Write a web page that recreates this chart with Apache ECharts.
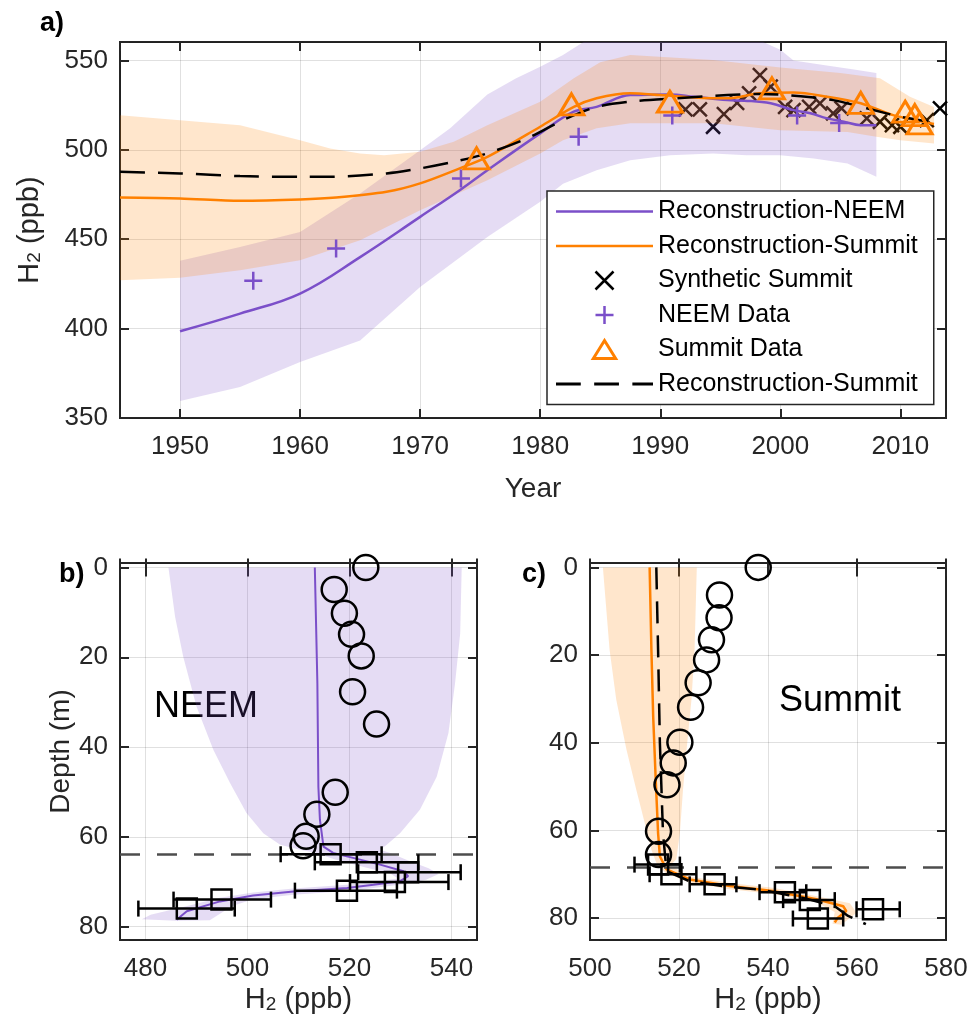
<!DOCTYPE html>
<html>
<head>
<meta charset="utf-8">
<script src="https://cdn.jsdelivr.net/npm/echarts@6/dist/echarts.min.js"></script>
<style>
  html, body { margin: 0; background: #fff; }
  #chart { width: 972px; height: 1028px; }
</style>
</head>
<body>
<div id="chart"></div>
<script>
const FONT = 'Liberation Sans, Arial, sans-serif'
const INK = '#262626'
const PURPLE = '#7b4fc9'
const ORANGE = '#ff8000'
const PURPLE_BAND = 'rgba(123,79,201,0.2)'
const ORANGE_BAND = 'rgba(255,128,0,0.2)'

// ---------- panel a : atmospheric history ----------
const neemYear = [1950, 1955, 1960, 1965, 1970, 1973.3, 1975.6, 1980, 1982.8, 1984.7, 1987.5, 1990.8, 1992.8, 1995.6, 1997, 1999.2, 2001.1, 2002.5, 2003.9, 2005.3, 2006.7, 2008]
const neemH2 = [398.5, 408.4, 419.6, 440, 462.5, 477.4, 488.6, 509.2, 521.3, 524, 530.6, 531, 529.7, 527.8, 527.5, 526, 522.2, 520.4, 517.6, 515.7, 513.8, 513.8]

const summitYear = [1945, 1950, 1955, 1960, 1963, 1967.2, 1970, 1973.3, 1975.6, 1980, 1982.8, 1984.7, 1987.5, 1990, 1992.8, 1995.6, 1998.3, 2001.1, 2003.9, 2006.7, 2009.4, 2012.8]
const summitH2 = [473.3, 472.8, 471.5, 472.2, 473.3, 476.5, 481.2, 489.6, 496, 512.9, 524, 528.8, 531.6, 530.6, 529.3, 528.8, 531.6, 532, 529.7, 526, 519.4, 514.4]

const dashYear = [1945, 1950, 1955, 1960, 1962.2, 1967.2, 1970, 1972.8, 1975.6, 1979.2, 1981.9, 1984.7, 1987.5, 1991.4, 1995.6, 1998.3, 2001.7, 2004.4, 2007.2, 2010, 2012.5]
const dashH2 = [487.7, 486.8, 485.3, 484.9, 484.9, 486.8, 489.6, 493.3, 498, 507.3, 516.6, 524, 526.9, 528.8, 530.6, 531.2, 530, 527.8, 523.2, 518.5, 515.7]

const neemUpYear = [1950, 1955, 1960, 1965, 1970, 1972.5, 1975.6, 1978, 1980, 1981.9, 1984, 1987, 1992, 1996, 1998, 2000, 2001.1, 2004, 2006, 2008]
const neemUp = [437.9, 445.7, 454, 475.6, 499.8, 512, 531, 540, 546.5, 553, 562, 568, 570, 566, 562, 556, 550, 547, 545, 543]
const neemLoYear = [1950, 1955, 1960, 1965, 1970, 1975.6, 1980, 1981.9, 1984.7, 1987.5, 1990.8, 1994.4, 1997.2, 2000, 2002.8, 2005.6, 2008]
const neemLo = [359.5, 367.3, 381.3, 393.4, 423.3, 451.3, 471, 481, 488.6, 494.2, 497, 498, 497, 497, 495.2, 492.4, 485]

const sumUpYear = [1945, 1950, 1955, 1960, 1962.5, 1965, 1967, 1970, 1972.8, 1975.6, 1980, 1982.8, 1985, 1987.5, 1994.4, 2000, 2005, 2008.3, 2010.8, 2012.8]
const sumUp = [519.4, 516.6, 513.8, 505.4, 500.8, 498, 497, 498.9, 504.5, 513.8, 526.9, 540, 549, 553, 550.2, 546, 543, 540, 529.7, 524]
const sumLoYear = [1945, 1950, 1955, 1960, 1965, 1970, 1975.6, 1980, 1981.9, 1984.7, 1987.5, 1994.4, 2000, 2005.6, 2008, 2010, 2012.8]
const sumLo = [427, 428.5, 432.6, 438.2, 449.4, 466.2, 483, 498, 505.4, 512, 514.8, 514.8, 511, 510, 507.3, 505.4, 503.6]

const synthYear = [1992.1, 1993.3, 1994.4, 1995.3, 1996.4, 1997.4, 1998.3, 1999.2, 2000.4, 2001.1, 2002.4, 2003.3, 2004.4, 2005.1, 2007.2, 2008.3, 2009.3, 2010, 2012.2, 2013.3]
const synthH2 = [522.6, 522.6, 512.9, 520, 526.3, 531.6, 541.8, 535.3, 524, 522.2, 524, 526, 520.4, 523.2, 517.6, 515.7, 513.8, 512.9, 516.6, 523.2]

const neemDataYear = [1956.1, 1963, 1973.4, 1983.2, 1991, 2001.4, 2004.9]
const neemDataH2 = [426.7, 444.8, 484, 507.3, 519.2, 519.2, 515]

const sumDataYear = [1974.7, 1982.6, 1990.8, 1999.3, 2006.7, 2010.4, 2011.2, 2011.6]
const sumDataH2 = [495.2, 525.4, 526.9, 534.4, 526.3, 521.3, 519.4, 514.8]

// ---------- panel b : NEEM depth profile ----------
const bLineH2 = [513.2, 513.7, 513.9, 514.2, 514.9, 516.8, 520.7, 526, 530.6, 531.5, 529.9, 524.7, 519.5, 509, 501.1, 494.6, 488.1, 486.1]
const bLineDepth = [0, 25.8, 48.9, 56.2, 62.2, 63.6, 64.7, 66.2, 67.7, 68.8, 69.9, 70.7, 71.4, 72.2, 73.1, 74.4, 76.6, 78.5]

const bBandH2 = [484.5, 485.8, 487.4, 490, 493.3, 496.6, 499.8, 503.1, 506.4, 510.3, 513.5,
  517, 523, 528, 529.5,
  524.7, 519.5, 509, 501.1, 494.6, 488, 481, 479.3,
  486, 492.6, 497, 501.1, 509, 519.5, 524.7, 530.5, 535, 537.5,
  535.5, 531.5, 528, 526,
  527.3, 529.9, 533.8, 537.1, 539.4, 540.7, 541.7, 542]
const bBandDepth = [0, 11, 19.9, 31, 40.6, 48.1, 54.7, 59.2, 61.8, 62.9, 63.6,
  65, 66.8, 68.2, 69.3,
  70, 70.7, 71.5, 72.4, 73.6, 75.5, 77.4, 78.4,
  78.7, 78.6, 75.4, 73.9, 72.9, 72.1, 71.4, 70.6, 69.6, 68.3,
  67, 65.3, 63.6, 62.9,
  61.8, 59.2, 54, 46.6, 36.9, 25.8, 14.7, 0]

const bFirnH2 = [523.2, 517, 519, 520.4, 522.3, 520.6, 525.3, 517.2, 513.6, 511.5, 510.9]
const bFirnDepth = [0, 4.9, 10.2, 14.9, 19.7, 27.7, 34.9, 50.1, 55, 59.9, 62]

const bIceH2 = [516.3, 523.4, 531.5, 528.9, 519.5, 494.9, 488.1]
const bIceDepth = [63.9, 65.7, 67.9, 70.1, 72.0, 74.0, 76.0]
const bIceLo = [506.5, 513.2, 521.7, 520.1, 509.3, 485.5, 478.6]
const bIceHi = [526.3, 533.5, 541.8, 539.4, 529.3, 504.6, 497.5]
const bCutoff = 64

// ---------- panel c : Summit depth profile ----------
const cLineH2 = [513.4, 513.8, 514.2, 514.8, 515.3, 515.7, 517.2, 522.4, 531.4, 541.1, 550.9, 556.9, 557.6, 555.7, 555]
const cLineDepth = [0, 18.8, 34, 49.2, 60.6, 65.9, 68.9, 71.2, 72.7, 73.8, 75.7, 77.3, 78.4, 79.9, 81]

const cDashH2 = [514.9, 515.3, 515.7, 516.4, 517.2, 522.4, 529.9, 538.9, 547.9, 555, 558, 562]
const cDashDepth = [0, 18.8, 39.9, 60.6, 69.3, 71.6, 72.7, 73.6, 75.4, 77.3, 79.5, 81.4]

const cBandH2 = [502.9, 504.4, 505.9, 508.2, 510.4, 512.3, 513.8, 514.9,
  517, 522.4, 531.4, 541.1, 550.9, 555, 554.5,
  556.5, 559.9, 558.4, 551, 541.1, 531.4, 522.4, 518,
  519.4, 520.2, 520.9, 521.7, 522.8, 523.5, 524]
const cBandDepth = [0, 18.8, 30.2, 41.6, 50.7, 58.3, 64.4, 67.4,
  69.7, 71.9, 73.4, 74.5, 76.4, 78.6, 81.3,
  81.5, 78.8, 76.6, 75, 73.1, 72, 70.5, 68,
  66.6, 60.6, 50.7, 41.6, 30.2, 18.8, 0]

const cFirnH2 = [537.8, 529.1, 529, 527.3, 526.2, 524.3, 522.6, 520.2, 518.7, 517.3, 515.4, 515.4]
const cFirnDepth = [0, 6.3, 11.5, 16.5, 21.1, 26.3, 31.9, 39.9, 44.6, 49.6, 60.2, 65.5]

const cIceH2 = [515.3, 518.3, 528, 543.8, 549.4, 551.2, 563.6]
const cIceDepth = [67.8, 70, 72.3, 74.1, 75.9, 80.1, 78]
const cIceLo = [510, 513.4, 522.4, 538.1, 543.4, 545.6, 559.9]
const cIceHi = [520.2, 523.9, 532.9, 548.6, 555, 556.9, 569.6]
const cCutoff = 68.5

const zip = (a, b) => a.map((v, i) => [v, b[i]])

// ---------- helpers ----------
function tickFormatter(step) {
  return (v) => Math.abs(v / step - Math.round(v / step)) < 1e-6 ? String(Math.round(v)) : ''
}

const h2Rich = {
  m: { fontSize: 29, fontFamily: FONT, color: INK, lineHeight: 32, verticalAlign: 'bottom' },
  s: { fontSize: 19, fontFamily: FONT, color: INK, lineHeight: 14, verticalAlign: 'bottom' }
}
const H2_NAME = '{m|H}{s|2}{m| (ppb)}'

function mainAxis(grid, min, max, step, extra) {
  return Object.assign({
    type: 'value', gridIndex: grid, min: min, max: max, minInterval: step, maxInterval: step,
    axisLine: { show: false },
    axisTick: { inside: true, length: 9, lineStyle: { color: INK, width: 2 } },
    axisLabel: { fontSize: 26, color: INK, fontFamily: FONT, margin: 12, formatter: tickFormatter(step) },
    splitLine: { show: true, lineStyle: { color: 'rgba(0,0,0,0.12)', width: 1 } },
    nameLocation: 'middle',
    nameTextStyle: { fontSize: 28, color: INK, fontFamily: FONT, rich: h2Rich }
  }, extra)
}

function sideAxis(grid, min, max, step, position, inverse) {
  return {
    type: 'value', gridIndex: grid, min: min, max: max, minInterval: step, maxInterval: step,
    position: position, inverse: !!inverse,
    axisLine: { show: false },
    axisTick: { inside: true, length: 9, lineStyle: { color: INK, width: 2 } },
    axisLabel: { show: false },
    splitLine: { show: false }
  }
}

function bandSeries(name, xs, ys, color, axis, z) {
  return {
    name: name, type: 'custom', xAxisIndex: axis, yAxisIndex: axis, clip: true, silent: true, z: z,
    data: zip(xs, ys),
    renderItem: (params, api) => {
      if (params.dataIndex !== 0) return null
      const pts = xs.map((x, i) => api.coord([x, ys[i]]))
      return { type: 'polygon', shape: { points: pts }, style: { fill: color } }
    }
  }
}

function errorBars(name, lo, hi, ys, axis) {
  return {
    name: name, type: 'custom', xAxisIndex: axis, yAxisIndex: axis, silent: true, z: 6,
    data: lo.map((l, i) => [l, hi[i], ys[i]]),
    encode: { x: [0, 1], y: 2 },
    renderItem: (params, api) => {
      const a = api.coord([api.value(0), api.value(2)])
      const b = api.coord([api.value(1), api.value(2)])
      const cap = 8
      const st = () => ({ stroke: '#000', lineWidth: 2.5, fill: null })
      return {
        type: 'group', children: [
          { type: 'line', shape: { x1: a[0], y1: a[1], x2: b[0], y2: b[1] }, style: st() },
          { type: 'line', shape: { x1: a[0], y1: a[1] - cap, x2: a[0], y2: a[1] + cap }, style: st() },
          { type: 'line', shape: { x1: b[0], y1: b[1] - cap, x2: b[0], y2: b[1] + cap }, style: st() }
        ]
      }
    }
  }
}

function hollow(name, data, symbol, size, color, width, axis, z) {
  return {
    name: name, type: 'scatter', xAxisIndex: axis, yAxisIndex: axis, silent: true, z: z,
    symbol: symbol, symbolSize: size, data: data,
    itemStyle: { color: 'rgba(0,0,0,0)', borderColor: color, borderWidth: width, opacity: 1 }
  }
}

const X_PATH = 'path://M0,0L10,10M10,0L0,10'
const PLUS_PATH = 'path://M5,0L5,10M0,5L10,5'
const TRI_PATH = 'path://M13,0L26,21L0,21Z'

const chart = echarts.init(document.getElementById('chart'))

const option = {
  animation: false,
  backgroundColor: '#fff',
  textStyle: { fontFamily: FONT },
  grid: [
    { left: 120, top: 42, width: 826, height: 376, show: true, borderColor: INK, borderWidth: 2, backgroundColor: 'transparent' },
    { left: 120, top: 563, width: 357, height: 377, show: true, borderColor: INK, borderWidth: 2, backgroundColor: 'transparent' },
    { left: 590, top: 563, width: 356, height: 377, show: true, borderColor: INK, borderWidth: 2, backgroundColor: 'transparent' }
  ],
  xAxis: [
    mainAxis(0, 1945, 2013.8, 10, { position: 'bottom', name: 'Year', nameGap: 57 }),
    mainAxis(1, 475, 545, 20, { position: 'bottom', name: H2_NAME, nameGap: 42 }),
    mainAxis(2, 500, 580, 20, { position: 'bottom', name: H2_NAME, nameGap: 42 }),
    sideAxis(0, 1945, 2013.8, 10, 'top'),
    sideAxis(1, 475, 545, 20, 'top'),
    sideAxis(2, 500, 580, 20, 'top')
  ],
  yAxis: [
    mainAxis(0, 350, 560.3, 50, { position: 'left', name: H2_NAME, nameGap: 76 }),
    mainAxis(1, -1, 83, 20, { position: 'left', inverse: true, name: 'Depth (m)', nameGap: 39 }),
    mainAxis(2, -1, 85, 20, { position: 'left', inverse: true }),
    sideAxis(0, 350, 560.3, 50, 'right'),
    sideAxis(1, -1, 83, 20, 'right', true),
    sideAxis(2, -1, 85, 20, 'right', true)
  ],
  legend: {
    orient: 'vertical', left: 547, top: 191,
    padding: [8, 9, 8, 9], itemWidth: 97, itemHeight: 18, itemGap: 9.5,
    backgroundColor: '#fff', borderColor: INK, borderWidth: 1.5,
    textStyle: { fontSize: 25, color: '#000', fontFamily: FONT },
    selectedMode: false,
    data: [
      { name: 'Reconstruction-NEEM', icon: 'path://M0,0H94V2.5H0Z', itemStyle: { color: PURPLE, borderWidth: 0 } },
      { name: 'Reconstruction-Summit', icon: 'path://M0,0H94V2.5H0Z', itemStyle: { color: ORANGE, borderWidth: 0 } },
      { name: 'Synthetic Summit', icon: X_PATH, itemStyle: { color: 'rgba(0,0,0,0)', borderColor: '#000', borderWidth: 2.5 } },
      { name: 'NEEM Data', icon: PLUS_PATH, itemStyle: { color: 'rgba(0,0,0,0)', borderColor: PURPLE, borderWidth: 2.5 } },
      { name: 'Summit Data', icon: TRI_PATH, itemStyle: { color: 'rgba(0,0,0,0)', borderColor: ORANGE, borderWidth: 3 } },
      { name: 'Reconstruction-Summit ', icon: 'path://M0,0H24V3H0Z M37,0H61V3H37Z M74,0H94V3H74Z', itemStyle: { color: '#000', borderWidth: 0 } }
    ]
  },
  series: [
    // panel a (synthetic markers sit beneath the shaded bands)
    {
      name: 'Synthetic Summit', type: 'scatter', xAxisIndex: 0, yAxisIndex: 0, silent: true, z: 2,
      symbol: X_PATH, symbolSize: 14, data: zip(synthYear, synthH2),
      itemStyle: { color: 'rgba(0,0,0,0)', borderColor: '#000', borderWidth: 2.5, opacity: 1 }
    },
    bandSeries('NEEM band', neemUpYear.concat(neemLoYear.slice().reverse()), neemUp.concat(neemLo.slice().reverse()), PURPLE_BAND, 0, 3),
    bandSeries('Summit band', sumUpYear.concat(sumLoYear.slice().reverse()), sumUp.concat(sumLo.slice().reverse()), ORANGE_BAND, 0, 3),
    {
      name: 'Reconstruction-NEEM', type: 'line', xAxisIndex: 0, yAxisIndex: 0, silent: true, z: 4,
      data: zip(neemYear, neemH2), showSymbol: false, symbol: 'none', smooth: 0.4,
      itemStyle: { color: PURPLE }, lineStyle: { color: PURPLE, width: 2.5 }
    },
    {
      name: 'Reconstruction-Summit', type: 'line', xAxisIndex: 0, yAxisIndex: 0, silent: true, z: 4,
      data: zip(summitYear, summitH2), showSymbol: false, symbol: 'none', smooth: 0.3,
      itemStyle: { color: ORANGE }, lineStyle: { color: ORANGE, width: 2.5 }
    },
    {
      name: 'Reconstruction-Summit ', type: 'line', xAxisIndex: 0, yAxisIndex: 0, silent: true, z: 4,
      data: zip(dashYear, dashH2), showSymbol: false, symbol: 'none', smooth: 0.3,
      itemStyle: { color: '#000' }, lineStyle: { color: '#000', width: 2.5, type: [25, 13] }
    },
    hollow('NEEM Data', zip(neemDataYear, neemDataH2), PLUS_PATH, 18, PURPLE, 2.5, 0, 5),
    hollow('Summit Data', zip(sumDataYear, sumDataH2), TRI_PATH, [25, 21], ORANGE, 3, 0, 5),

    // panel b
    bandSeries('NEEM profile band', bBandH2, bBandDepth, PURPLE_BAND, 1, 2),
    {
      name: 'NEEM profile', type: 'line', xAxisIndex: 1, yAxisIndex: 1, silent: true, z: 4,
      data: zip(bLineH2, bLineDepth), showSymbol: false, symbol: 'none',
      lineStyle: { color: PURPLE, width: 2 },
      markLine: {
        silent: true, symbol: 'none', label: { show: false },
        lineStyle: { color: '#4d4d4d', width: 2.5, type: [20, 17] },
        data: [{ yAxis: bCutoff }]
      }
    },
    hollow('NEEM firn', zip(bFirnH2, bFirnDepth), 'circle', 25, '#000', 2.5, 1, 5),
    errorBars('NEEM ice err', bIceLo, bIceHi, bIceDepth, 1),
    hollow('NEEM ice', zip(bIceH2, bIceDepth), 'rect', 20, '#000', 2.5, 1, 6),

    // panel c
    bandSeries('Summit profile band', cBandH2, cBandDepth, ORANGE_BAND, 2, 2),
    {
      name: 'Summit profile', type: 'line', xAxisIndex: 2, yAxisIndex: 2, silent: true, z: 4,
      data: zip(cLineH2, cLineDepth), showSymbol: false, symbol: 'none',
      lineStyle: { color: ORANGE, width: 2.5 },
      markLine: {
        silent: true, symbol: 'none', label: { show: false },
        lineStyle: { color: '#4d4d4d', width: 2.5, type: [20, 17] },
        data: [{ yAxis: cCutoff }]
      }
    },
    {
      name: 'Summit profile dashed', type: 'line', xAxisIndex: 2, yAxisIndex: 2, silent: true, z: 4,
      data: zip(cDashH2, cDashDepth), showSymbol: false, symbol: 'none',
      lineStyle: { color: '#000', width: 2.5, type: [22, 12] }
    },
    hollow('Summit firn', zip(cFirnH2, cFirnDepth), 'circle', 25, '#000', 2.5, 2, 5),
    errorBars('Summit ice err', cIceLo, cIceHi, cIceDepth, 2),
    hollow('Summit ice', zip(cIceH2, cIceDepth), 'rect', 20, '#000', 2.5, 2, 6)
  ],
  graphic: [
    { type: 'text', x: 40, y: 24, style: { text: 'a)', font: 'bold 27px ' + FONT, fill: '#000', align: 'left', verticalAlign: 'middle' } },
    { type: 'text', x: 59, y: 575, style: { text: 'b)', font: 'bold 27px ' + FONT, fill: '#000', align: 'left', verticalAlign: 'middle' } },
    { type: 'text', x: 522, y: 575, style: { text: 'c)', font: 'bold 27px ' + FONT, fill: '#000', align: 'left', verticalAlign: 'middle' } },
    { type: 'text', x: 154, y: 707, style: { text: 'NEEM', font: '36px ' + FONT, fill: '#000', align: 'left', verticalAlign: 'middle' } },
    { type: 'text', x: 779, y: 701, style: { text: 'Summit', font: '36px ' + FONT, fill: '#000', align: 'left', verticalAlign: 'middle' } }
  ]
}

// x tick labels sit a little lower than the y ones
option.xAxis.slice(0, 3).forEach(ax => { ax.axisLabel.margin = 16 })

chart.setOption(option)
</script>
</body>
</html>
